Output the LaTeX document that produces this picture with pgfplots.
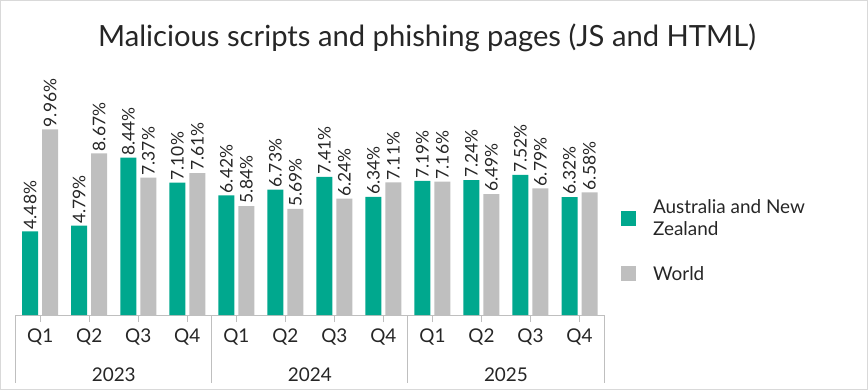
\documentclass[border=0pt]{standalone}
\usepackage{pgfplots}
\pgfplotsset{compat=1.18}
\usepackage{fontspec}
\setmainfont{Lato}
\definecolor{anz}{HTML}{00A88E}
\definecolor{wld}{HTML}{BFBFBF}
\definecolor{txt}{HTML}{262626}
\definecolor{axl}{HTML}{BFBFBF}
\definecolor{brd}{HTML}{D9D9D9}
\begin{document}
\begin{tikzpicture}[x=1bp,y=1bp]
\path[use as bounding box] (0,0) rectangle (868,390);
\draw[brd, line width=1.5bp] (0.75,0.75) rectangle (867.25,389.25);
\node[txt, font=\fontsize{29.3}{34}\selectfont] at (427,352) {Malicious scripts and phishing pages (JS and HTML)};
\begin{axis}[
  at={(15.7bp,75bp)}, anchor=south west,
  scale only axis, width=588.3bp, height=261bp,
  ymin=0, ymax=14, xmin=-0.5, xmax=11.5,
  ybar=4bp, bar width=16bp,
  hide y axis,
  axis x line*=bottom,
  x axis line style={axl, line width=1bp},
  xtick={0,...,11},
  xticklabels={Q1,Q2,Q3,Q4,Q1,Q2,Q3,Q4,Q1,Q2,Q3,Q4},
  xtick style={axl, line width=1bp},
  tick align=outside,
  major tick length=7bp,
  xticklabel style={txt, font=\fontsize{19}{22}\selectfont, yshift=-3bp},
  clip=false,
  /pgf/number format/assume math mode=true,
  nodes near coords={\pgfmathprintnumber[fixed,fixed zerofill,precision=2]{\pgfplotspointmeta}\%},
  every node near coord/.append style={rotate=90, anchor=west, txt, font=\fontsize{17.5}{19}\selectfont, inner sep=2bp, xshift=0bp},
  legend image code/.code={\fill[#1, draw=none] (0bp,-7.5bp) rectangle (15bp,7.5bp);},
  legend style={draw=none, fill=none, at={(1.0287,0.383)}, anchor=north west, yshift=18bp,
    inner sep=0bp, column sep=15bp,
    nodes={align=left, txt, font=\fontsize{19}{22.5}\selectfont, inner sep=2bp},
    legend cell align=left, row sep=25bp},
]
\addplot[fill=anz, draw=none] coordinates {(0,4.48) (1,4.79) (2,8.44) (3,7.10) (4,6.42) (5,6.73) (6,7.41) (7,6.34) (8,7.19) (9,7.24) (10,7.52) (11,6.32)};
\addplot[fill=wld, draw=none] coordinates {(0,9.96) (1,8.67) (2,7.37) (3,7.61) (4,5.84) (5,5.69) (6,6.24) (7,7.11) (8,7.16) (9,6.49) (10,6.79) (11,6.58)};
\legend{Australia and New\\Zealand, World}
\draw[axl, line width=1bp] (axis cs:-0.5,0) -- ([yshift=-68bp]axis cs:-0.5,0);
\draw[axl, line width=1bp] (axis cs:3.5,0) -- ([yshift=-68bp]axis cs:3.5,0);
\draw[axl, line width=1bp] (axis cs:7.5,0) -- ([yshift=-68bp]axis cs:7.5,0);
\draw[axl, line width=1bp] (axis cs:11.5,0) -- ([yshift=-68bp]axis cs:11.5,0);
\node[txt, font=\fontsize{19}{22}\selectfont] at ([yshift=-60bp]axis cs:1.5,0) {2023};
\node[txt, font=\fontsize{19}{22}\selectfont] at ([yshift=-60bp]axis cs:5.5,0) {2024};
\node[txt, font=\fontsize{19}{22}\selectfont] at ([yshift=-60bp]axis cs:9.5,0) {2025};
\end{axis}
\end{tikzpicture}
\end{document}
